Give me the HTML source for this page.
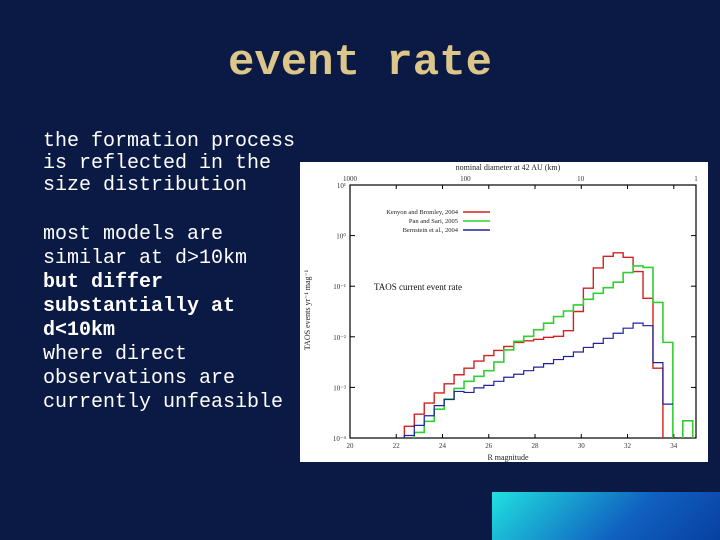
<!DOCTYPE html>
<html><head><meta charset="utf-8"><style>
body{margin:0;width:720px;height:540px;background:#0b1a45;overflow:hidden;position:relative;font-family:"Liberation Mono",monospace}
.t{position:absolute;left:43px;color:#fff;font-size:20px;white-space:pre;line-height:22px}
</style></head><body>
<div style="position:absolute;left:0;width:720px;top:38px;text-align:center;color:#dcc68a;font-size:44px;font-weight:bold;font-family:'Liberation Mono',monospace">event rate</div>
<div class="t" style="top:131px">the formation process
is reflected in the
size distribution</div>
<div class="t" style="top:223px;line-height:24px">most models are
similar at d&gt;10km
<b>but differ
substantially at
d&lt;10km</b>
where direct
observations are
currently unfeasible</div>
<div style="position:absolute;left:492px;top:492px;width:228px;height:48px;background:linear-gradient(135deg,#20e0e0,#1060c0 60%,#0840a0)"></div>
<svg style="position:absolute;left:0;top:0" width="720" height="540" font-family="Liberation Serif,serif">
<rect x="300" y="162" width="408" height="300" fill="#fff"/>
<g id="g"></g>
</svg>
<script>
const binStart=22.35, binWidth=0.43;
const xTicks=[20,22,24,26,28,30,32,34];
const xTickLabels=["20","22","24","26","28","30","32","34"];
const yTicks=[1,0,-1,-2,-3,-4];
const yTickLabels=["10¹","10⁰","10⁻¹","10⁻²","10⁻³","10⁻⁴"];
const topTicks=[1000,100,10,1];
const topTickLabels=["1000","100","10","1"];
const kenyonLog10Rate=[-3.77,-3.53,-3.31,-3.11,-2.93,-2.75,-2.62,-2.48,-2.37,-2.27,-2.19,-2.11,-2.08,-2.05,-2.01,-1.99,-1.88,-1.50,-1.04,-0.64,-0.41,-0.34,-0.43,-0.71,-1.24,-2.62];
const panLog10Rate=[null,-3.89,-3.67,-3.43,-3.23,-3.02,-2.88,-2.78,-2.67,-2.50,-2.26,-2.09,-1.99,-1.86,-1.73,-1.60,-1.49,-1.37,-1.26,-1.14,-1.03,-0.92,-0.73,-0.60,-0.63,-1.32,-2.11,null,-3.66];
const bernsteinLog10Rate=[-3.95,-3.75,-3.56,-3.36,-3.24,-3.08,-3.10,-3.01,-2.96,-2.88,-2.80,-2.74,-2.67,-2.60,-2.53,-2.45,-2.39,-2.30,-2.21,-2.13,-2.03,-1.93,-1.83,-1.73,-1.78,-2.51,-3.33];
const L=350,R=696,T=185,B=438,xMin=20,xMax=34.96,yMin=-4,yMax=1;
const X=m=>L+(m-xMin)/(xMax-xMin)*(R-L);
const Y=v=>B-(v-yMin)/(yMax-yMin)*(B-T);
const D=m=>L+(Math.log10(1000)-Math.log10(m))/3*(R-L);
const g=document.getElementById('g');const NS='http://www.w3.org/2000/svg';
function mk(t,a,txt){const e=document.createElementNS(NS,t);for(const k in a)e.setAttribute(k,a[k]);if(txt!==undefined)e.textContent=txt;g.appendChild(e);return e;}
function step(vals,color,w,dropEnd,name){
 let d='',prev=null;
 vals.forEach((v,i)=>{const x0=X(binStart+i*binWidth),x1=X(binStart+(i+1)*binWidth);
  if(v===null){if(prev!==null&&dropEnd)d+=`L${x0},${B}`;prev=null;return;}
  const y=Y(v);
  if(prev===null)d+=`M${x0},${B}L${x0},${y}`;else d+=`L${x0},${y}`;
  d+=`L${x1},${y}`;prev=v;
  if(i===vals.length-1&&dropEnd)d+=`L${x1},${B}`;
 });
 const p=mk('path',{d:d,fill:'none',stroke:color,'stroke-width':w});
 
 
}
const frame=mk('rect',{x:L,y:T,width:R-L,height:B-T,fill:'none',stroke:'#000','stroke-width':1.2});


xTicks.forEach((m,i)=>{const x=X(m);mk('line',{x1:x,x2:x,y1:B,y2:B-4,stroke:'#000'});mk('line',{x1:x,x2:x,y1:T,y2:T+4,stroke:'#000'});
 const t=mk('text',{x:x,y:B+10,'font-size':7,'text-anchor':'middle',fill:'#333'},xTickLabels[i]);
 
 });
yTicks.forEach((v,i)=>{const y=Y(v);mk('line',{x1:L,x2:L+5,y1:y,y2:y,stroke:'#000'});mk('line',{x1:R,x2:R-5,y1:y,y2:y,stroke:'#000'});
 const t=mk('text',{x:L-4,y:y+3,'font-size':7,'text-anchor':'end',fill:'#333'},yTickLabels[i]);
 
 });
topTicks.forEach((m,i)=>{const x=D(m);
 const t=mk('text',{x:x,y:T-4,'font-size':7,'text-anchor':'middle',fill:'#333'},topTickLabels[i]);
 
 });
step(kenyonLog10Rate,'#d42020',1.4,true,'series-kenyon');
step(panLog10Rate,'#30d030',1.6,true,'series-pan');
step(bernsteinLog10Rate,'#2020a0',1.2,false,'series-bernstein');
[['Kenyon and Bromley, 2004','#d42020',212],['Pan and Sari, 2005','#30d030',221],['Bernstein et al., 2004','#2020a0',230]].forEach(r=>{
 const t=mk('text',{x:458,y:r[2]+2,'font-size':6.5,'text-anchor':'end',fill:'#222'},r[0]);
 
 
 const l=mk('line',{x1:463,x2:490,y1:r[2],y2:r[2],stroke:r[1],'stroke-width':1.4});
 
 });
const a=mk('text',{x:374,y:290,'font-size':9,fill:'#111'},'TAOS current event rate');


const xt=mk('text',{x:508,y:460,'font-size':8,'text-anchor':'middle',fill:'#222'},'R magnitude');


const tt=mk('text',{x:508,y:170,'font-size':8,'text-anchor':'middle',fill:'#222'},'nominal diameter at 42 AU (km)');


const yt=mk('text',{x:310,y:310,'font-size':8,'text-anchor':'middle',fill:'#222',transform:'rotate(-90 310 310)'},'TAOS events yr⁻¹ mag⁻¹');


</script>
</body></html>
